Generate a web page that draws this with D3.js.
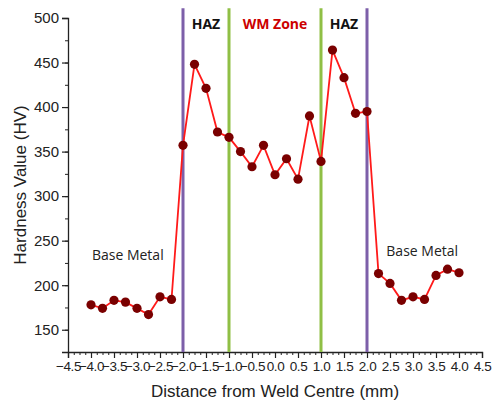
<!DOCTYPE html>
<html>
<head>
<meta charset="utf-8">
<script src="https://cdn.jsdelivr.net/npm/d3@7"></script>
<style>
  body { margin: 0; background: #fff; }
  .tick text { font-family: "Liberation Sans", Arial, sans-serif; fill: #222; }
</style>
</head>
<body>
<div class="container"></div>
<script>
// data
const distance = [-4.0, -3.75, -3.5, -3.25, -3.0, -2.75, -2.5, -2.25,
                  -2.0, -1.75, -1.5, -1.25, -1.0, -0.75, -0.5, -0.25,
                  0.0, 0.25, 0.5, 0.75, 1.0, 1.25, 1.5, 1.75,
                  2.0, 2.25, 2.5, 2.75, 3.0, 3.25, 3.5, 3.75, 4.0];
const hardness = [178, 174, 183, 181, 174, 167, 187, 184,
                  357, 448, 421, 372, 366, 350, 333, 357,
                  324, 342, 319, 390, 339, 464, 433, 393,
                  395, 213, 202, 183, 187, 184, 211, 218, 214];
const haz = [-2, 2];
const wmZone = [-1, 1];
const xTicks = d3.range(-4.5, 4.51, 0.5);
const yTicks = [150, 200, 250, 300, 350, 400, 450, 500];

const w = 493;
const h = 406;
const [margin_top, margin_left, margin_bottom, margin_right] = [18, 68, 54, 11];
const plotWidth = w - margin_left - margin_right;
const plotHeight = h - margin_top - margin_bottom;

const svg = d3.select('.container')
              .append('svg')
              .attr('width', w)
              .attr('height', h);
const plot = svg.append('g')
                .attr('transform', `translate(${margin_left}, ${margin_top})`);

const x = d3.scaleLinear().domain([-4.5, 4.5]).range([0, plotWidth]);
const y = d3.scaleLinear().domain([125, 500]).range([plotHeight, 0]);

// minor ticks first
plot.append('g')
    .attr('transform', `translate(0, ${plotHeight})`)
    .call(d3.axisBottom(x).tickValues(d3.range(-4.5, 4.51, 0.125)).tickSize(3).tickFormat(''))
    .call(g => g.select('.domain').remove())
    .selectAll('line').attr('stroke', '#222');
plot.append('g')
    .call(d3.axisLeft(y).tickValues(d3.range(125, 501, 25)).tickSize(3).tickFormat(''))
    .call(g => g.select('.domain').remove())
    .selectAll('line').attr('stroke', '#222');

// major axes
const xGroup = plot.append('g')
    .attr('transform', `translate(0, ${plotHeight})`)
    .call(d3.axisBottom(x).tickValues(xTicks).tickSize(6).tickPadding(3).tickFormat(d3.format('.1f')));
xGroup.selectAll('text').attr('font-size', 13.5).attr('letter-spacing', -0.4);
const yGroup = plot.append('g')
    .call(d3.axisLeft(y).tickValues(yTicks).tickSize(6).tickPadding(3));
yGroup.selectAll('text').attr('font-size', 15);
[xGroup, yGroup].forEach(g => {
    g.select('.domain').attr('stroke', '#222').attr('stroke-width', 1.3);
    g.selectAll('line').attr('stroke', '#222').attr('stroke-width', 1.2);
});

// zone boundaries
plot.selectAll('.haz')
    .data(haz)
    .enter().append('line')
    .attr('x1', d => x(d)).attr('x2', d => x(d))
    .attr('y1', y(125)).attr('y2', y(511))
    .attr('stroke', '#7d5fa9').attr('stroke-width', 3);
plot.selectAll('.wm')
    .data(wmZone)
    .enter().append('line')
    .attr('x1', d => x(d)).attr('x2', d => x(d))
    .attr('y1', y(125)).attr('y2', y(511))
    .attr('stroke', '#8fbf45').attr('stroke-width', 3);

// series
const pts = distance.map((d, i) => [d, hardness[i]]);
plot.append('path')
    .datum(pts)
    .attr('fill', 'none')
    .attr('stroke', '#ff1a1a')
    .attr('stroke-width', 1.8)
    .attr('d', d3.line().x(d => x(d[0])).y(d => y(d[1])));
plot.selectAll('circle')
    .data(pts)
    .enter().append('circle')
    .attr('cx', d => x(d[0]))
    .attr('cy', d => y(d[1]))
    .attr('r', 4.6)
    .attr('fill', '#7a0000');

// zone labels
const labelFont = '"Open Sans", "Liberation Sans", sans-serif';
const labels = [
    {t: 'HAZ', x: -1.5, y: 488, c: '#111', b: true},
    {t: 'WM Zone', x: 0.0, y: 488, c: '#cc0000', b: true},
    {t: 'HAZ', x: 1.5, y: 488, c: '#111', b: true},
    {t: 'Base Metal', x: -3.2, y: 228, c: '#222', b: false},
    {t: 'Base Metal', x: 3.2, y: 233, c: '#222', b: false}
];
plot.selectAll('.lbl')
    .data(labels)
    .enter().append('text')
    .attr('x', d => x(d.x))
    .attr('y', d => y(d.y))
    .attr('text-anchor', 'middle')
    .attr('font-family', labelFont)
    .attr('font-size', 14)
    .attr('font-weight', d => d.b ? 'bold' : 'normal')
    .attr('fill', d => d.c)
    .text(d => d.t);

// axis titles
svg.append('text')
    .attr('x', margin_left + plotWidth / 2)
    .attr('y', 397)
    .attr('text-anchor', 'middle')
    .attr('font-family', '"Liberation Sans", Arial, sans-serif')
    .attr('font-size', 17)
    .attr('fill', '#222')
    .text('Distance from Weld Centre (mm)');
svg.append('text')
    .attr('transform', `translate(26, ${margin_top + plotHeight / 2}) rotate(-90)`)
    .attr('text-anchor', 'middle')
    .attr('font-family', '"Liberation Sans", Arial, sans-serif')
    .attr('font-size', 17)
    .attr('fill', '#222')
    .text('Hardness Value (HV)');
</script>
</body>
</html>
